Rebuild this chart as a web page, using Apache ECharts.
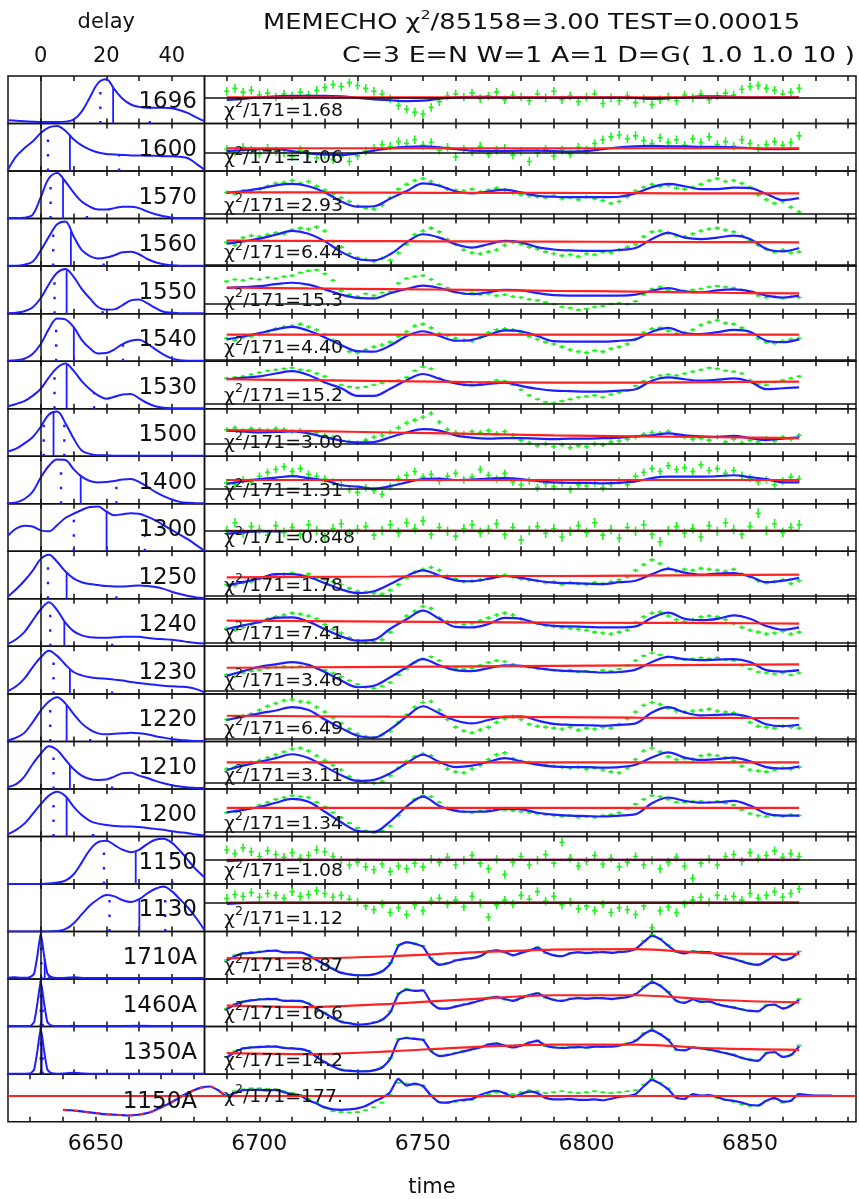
<!DOCTYPE html>
<html><head><meta charset="utf-8">
<script src="https://cdn.jsdelivr.net/npm/echarts@6/dist/echarts.min.js"></script>
<style>html,body{margin:0;padding:0;background:#fff;}#chart{width:859px;height:1199px;}</style>
</head><body><div id="chart"></div>
<script>
// ---------------- DATA ----------------
const lineNames = ['1696','1600','1570','1560','1550','1540','1530','1500','1400','1300','1250','1240','1230','1220','1210','1200','1150','1130','1710A','1460A','1350A','1150A'];
const chi2Values = ['1.68','1.06','2.93','6.44','15.3','4.40','15.2','3.00','1.31','0.848','1.78','7.41','3.46','6.49','3.11','1.34','1.08','1.12','8.87','16.6','14.2','177.'];
const zeroLevels = [55,38,10,3,20,4,11,27,31,43,7,7,7,5,12,9,51,61,null,null,null,null];
const errSizes = [9,9,4,4,3,4,3,5,8,10,4,4,3,4,4,3,9,9,2,2,2,2];
const markQ1  = [18.2,2.2,3.0,3.8,4.2,4.7,4.2,0.9,6.2,10.1,2.2,2.9,3.9,2.9,3.9,3.9,19.3,21.0,0.2,0.0,0.0];
const markMed = [22.1,8.9,6.8,9.2,7.9,10.1,7.9,3.9,12.2,20.1,7.9,7.2,8.9,7.9,8.9,7.9,29.0,30.1,1.2,0.3,0.3];
const markQ3  = [33.3,23.9,14.1,19.2,18.9,25.1,16.3,7.2,23.1,31.8,23.1,21.8,21.8,15.1,21.8,16.0,40.2,38.0,2.5,0.6,0.6];

const titleText1 = ['MEMECHO χ', '2', '/85158=3.00 TEST=0.00015'];
const titleText2 = 'C=3 E=N W=1 A=1 D=G( 1.0 1.0 10 )';
const delayLabels = [0,20,40];
const timeLabels = [6650,6700,6750,6800,6850];

const delayGrid = [-10,-7.5,-5,-2.5,0,2.5,5,7.5,10,12.5,15,17.5,20,22.5,25,27.5,30,32.5,35,37.5,40,42.5,45,47.5,50];
const tModel = [6690,6695,6700,6705,6710,6715,6720,6725,6730,6735,6740,6745,6750,6755,6760,6765,6770,6775,6780,6785,6790,6795,6800,6805,6810,6815,6820,6825,6830,6835,6840,6845,6850,6855,6860,6865];
const tData = [6690,6692.5,6695,6697.5,6700,6702.5,6705,6707.5,6710,6712.5,6715,6717.5,6720,6722.5,6725,6727.5,6730,6732.5,6735,6737.5,6740,6742.5,6745,6747.5,6750,6752.5,6755,6757.5,6760,6762.5,6765,6767.5,6770,6772.5,6775,6777.5,6780,6782.5,6785,6787.5,6790,6792.5,6795,6797.5,6800,6802.5,6805,6807.5,6810,6812.5,6815,6817.5,6820,6822.5,6825,6827.5,6830,6832.5,6835,6837.5,6840,6842.5,6845,6847.5,6850,6852.5,6855,6857.5,6860,6862.5,6865];
const tRed = [6690,6715,6740,6765,6790,6815,6840,6865];
const t1150Ahead = [6640,6642.5,6645,6647.5,6650,6652.5,6655,6657.5,6660,6662.5,6665,6667.5,6670,6672.5,6675,6677.5,6680,6682.5,6685,6687.5];
const t1150Atail = [6867.5,6870,6872.5,6875];

// delay distributions (values on delayGrid)
const c1696 = [7,6,5,4,3,3,3,4,8,25,55,85,93,72,52,40,35,33,33,33,32,28,22,13,5];
const c1600 = [3,31,48,62,80,92,95,85,67,54,45,39,36,35,34,33,33,32,32,31,31,30,27,15,3];
const c1570 = [1,1,2,8,45,85,96,78,55,36,25,19,19,22,25,25,22,15,9,5,2,1,1,1,1];
const c1560 = [1,1,3,9,33,62,88,94,63,34,21,16,18,23,29,30,25,15,8,4,2,1,1,1,1];
const c1550 = [1,2,5,13,33,62,86,94,78,52,32,14,8,9,18,28,30,22,12,4,2,1,1,1,1];
const c1540 = [1,2,5,15,36,68,90,88,72,45,27,16,17,25,36,43,45,37,25,14,6,2,1,1,1];
const c1530 = [5,10,16,27,42,66,86,95,80,58,41,28,21,25,30,31,22,12,5,2,1,1,1,1,1];
const c1500 = [10,16,27,40,62,88,94,70,38,12,5,2,2,1,1,1,1,1,1,1,1,1,1,1,1];
const c1400 = [1,3,10,25,55,80,93,92,73,57,48,45,46,48,51,52,46,36,25,16,9,4,2,1,1];
const c1300 = [33,48,54,52,44,42,55,70,79,87,93,94,84,76,78,80,79,73,65,55,45,35,25,13,1];
const c1250 = [5,20,38,59,84,93,78,58,43,35,31,29,27,26,26,27,28,27,25,21,15,10,6,3,2];
const c1240 = [5,15,30,54,78,93,76,50,32,23,19,18,18,19,20,20,20,18,16,15,14,12,9,7,6];
const c1230 = [6,16,32,56,77,91,80,62,46,39,35,33,32,30,28,25,23,21,19,17,16,15,14,10,3];
const c1220 = [2,8,18,40,65,84,93,80,58,38,25,17,15,16,17,18,17,15,11,8,5,3,2,1,1];
const c1210 = [4,10,26,52,74,90,82,62,42,28,21,19,20,26,33,34,28,23,17,12,8,5,3,2,2];
const c1200 = [5,14,27,47,68,86,94,85,63,45,33,27,24,22,21,21,20,18,16,14,11,9,7,4,2];
const c1150 = [0,0,0,0,0,1,3,7,20,45,72,88,91,82,72,67,72,84,93,95,87,70,50,30,14];
const c1130 = [0,0,0,0,0,0,1,5,17,36,55,68,77,74,66,62,68,80,90,95,85,68,50,28,3];
// narrow continuum transfer functions: [delay, value]
const c1710A = [[-10,3],[-8,4],[-6,3],[-4,3],[-3,5],[-2,12],[-1,50],[0,97],[1,50],[2,12],[3,5],[4,3],[6,2],[8,3],[10,4],[12,3],[15,2],[20,2],[25,2],[30,2],[35,2],[40,2],[45,2],[50,2]];
const c1460A = [[-10,2],[-8,1],[-5,1],[-3,2],[-2,10],[-1,50],[0,97],[1,50],[2,10],[3,3],[5,1],[10,2],[15,1],[20,1],[30,2],[40,1],[50,1]];
const c1350A = [[-10,1],[-5,1],[-3,2],[-2,10],[-1,50],[0,97],[1,50],[2,10],[3,3],[5,1],[8,2],[10,3],[12,2],[15,1],[20,1],[30,1],[40,1],[50,1]];

// model light curves on tModel
const m1696 = [49.5,52,55,57,58,58,58,57,54,51,49,47,48,52,55,56,56,55,55,55,55,55,55,55,55,54,52,53,55,57,57,56,55,55,55,55];
const m1600 = [42,44,46,46,42,37,35,34,37,43,48,51,52,50,46,43,42,42,43,43,42,41,42,46,50,52,53,52,52,51,51,50,48,46,46,47];
const m1570 = [54,58,63,70,73,68,55,36,25,26,42,58,74,69,57,53,57,61,55,48,46,45,45,45,46,53,66,73,68,62,62,65,64,52,39,43];
const m1560 = [47,52,58,66,74,68,52,30,15,12,25,50,67,60,46,39,46,53,50,40,35,33,32,32,34,38,57,70,60,57,60,64,57,36,31,38];
const m1550 = [54,56,58,62,65,61,51,40,33,32,43,52,59,54,45,41,45,50,49,43,39,38,38,38,38,40,48,54,47,45,49,51,47,38,34,38];
const m1540 = [46,52,59,67,72,64,50,34,21,20,33,53,63,53,43,45,55,65,63,53,42,41,41,41,43,46,62,70,59,57,61,66,62,43,40,46];
const m1530 = [62,65,68,74,79,71,55,43,27,27,42,60,73,63,53,49,52,55,48,42,38,37,36,36,38,41,59,66,62,59,61,64,57,41,43,45];
const m1500 = [54,52,50,51,52,48,40,33,29,30,40,50,57,54,44,39,37,38,38,37,36,37,37,38,39,42,44,48,44,42,41,43,38,34,37,40];
const m1400 = [42,47,52,55,58,54,49,39,36,32,37,45,52,53,50,51,53,54,52,48,45,44,44,43,44,47,54,57,57,57,58,60,56,52,45,45];
const m1300 = [37,40,42,42,43,43,43,43,43,43,43,43,43,43,43,43,43,43,43,43,43,43,43,43,43,43,43,43,43,43,43,43,43,43,43,43];
const m1250 = [28,35,43,52,52,46,33,20,12,16,31,48,60,49,39,37,42,48,44,38,34,33,32,31,35,38,52,63,55,51,53,54,47,35,38,44];
const m1240 = [36,44,51,60,61,52,36,21,12,14,37,57,75,58,41,40,47,60,58,48,43,42,41,40,40,42,60,71,58,55,58,65,58,43,35,40];
const m1230 = [38,48,57,62,67,61,46,28,14,17,35,56,73,60,50,48,54,60,59,54,50,48,47,45,46,51,67,78,73,71,72,73,67,50,47,50];
const m1220 = [45,52,59,65,72,66,46,28,12,8,26,52,74,59,44,38,45,52,53,44,37,35,34,33,35,38,61,72,61,55,56,57,51,36,32,35];
const m1210 = [40,49,57,65,73,65,47,29,17,19,33,54,72,57,46,49,57,65,58,51,47,46,46,45,46,51,66,77,66,61,63,66,58,46,43,47];
const m1200 = [51,56,62,71,79,73,52,30,12,10,32,63,84,64,54,52,53,58,57,50,46,44,43,42,44,47,70,82,75,71,72,75,65,48,44,44];
const m1150 = [48,50,51,51,51,51,51,51,51,51,51,51,51,51,51,51,51,51,51,51,51,51,51,51,51,51,51,51,51,51,51,51,51,51,51,51];
const m1130 = [58,60,61,61,61,61,61,61,61,61,61,61,61,61,61,61,61,61,61,61,61,61,61,61,61,61,61,61,61,61,61,61,61,61,61,61];
// continuum models on tData
const m1710A = [39,48,54,55,57,59,60,56,56,56,50,40,30,21,13,10,8,8,10,16,32,70,77,74,68,42,30,33,39,42,44,48,58,60,57,50,55,60,66,56,50,48,54,56,55,56,57,55,57,58,63,78,91,84,70,58,54,58,57,57,51,46,42,37,32,30,38,48,40,44,56];
const m1460A = [37,46,52,55,57,58,58,54,54,54,48,38,28,18,10,7,4,5,8,14,30,68,78,75,76,50,38,38,42,46,50,55,60,62,58,54,60,66,70,62,56,54,58,60,59,60,60,58,60,62,68,82,93,86,72,54,50,57,52,53,47,43,40,36,33,32,44,46,38,44,56];
const m1350A = [35,46,54,56,57,58,58,55,54,53,48,36,25,16,9,7,6,6,8,14,32,72,76,74,72,48,38,40,44,48,52,56,62,64,60,56,60,66,70,60,56,55,56,57,56,58,58,58,60,64,70,84,92,84,72,52,50,56,54,52,48,44,40,34,30,28,44,46,36,40,58];
// 1150A model on t1150Ahead + tData + t1150Atail
const m1150A = [25,24,22,20,18,16,15,14,13,14,17,22,30,38,48,58,66,72,74,66,54,
 60,66,67,67,66,67,62,58,55,45,38,30,26,25,26,28,33,42,50,62,90,76,80,75,55,41,40,44,46,48,
 56,62,65,60,52,58,63,60,50,47,47,48,46,46,47,45,48,52,54,58,74,88,80,68,50,48,58,55,56,52,
 46,44,40,35,34,44,50,42,44,58,56,55,55,55];

// measured fluxes on tData
const g1696 = [68,74,66,70,60,64,56,62,58,66,60,70,76,82,78,86,80,74,68,62,52,38,30,24,20,34,46,58,62,56,64,52,58,66,50,60,56,48,62,54,68,50,58,46,56,62,42,54,48,58,44,52,40,50,56,48,60,54,62,50,58,64,60,72,78,80,74,70,62,66,74];
const g1600 = [46,40,50,44,36,48,42,38,30,44,36,28,34,24,30,20,32,42,48,56,52,62,58,66,54,60,44,50,30,46,40,52,36,44,48,34,42,20,38,46,32,44,36,50,44,58,66,72,76,68,74,64,58,70,60,66,54,68,60,72,56,62,52,66,58,48,56,62,54,60,74];
const g1570 = [55,52,58,56,62,68,74,76,80,74,78,68,60,52,44,36,26,22,20,28,44,62,72,80,84,78,70,62,60,58,62,56,60,64,60,54,50,48,46,44,48,42,44,40,46,42,38,32,36,46,58,66,72,68,70,64,62,66,72,80,84,78,80,74,66,50,40,32,36,24,14];
const g1560 = [50,44,60,64,62,66,70,68,76,80,78,82,74,52,40,26,18,14,10,16,12,28,46,66,74,80,72,56,46,34,28,26,30,34,44,50,46,40,36,30,26,22,24,20,26,24,30,28,34,40,46,62,72,74,70,64,62,68,74,78,80,76,72,64,54,44,36,30,34,28,30];
const g1550 = [68,72,70,74,72,76,74,78,80,86,90,92,84,70,48,40,36,42,38,44,46,64,74,78,80,72,62,54,46,42,44,40,42,38,40,36,34,30,28,24,20,14,12,8,10,14,16,20,22,20,26,40,52,56,50,46,48,50,52,56,58,56,54,50,44,38,34,36,32,36,34];
const g1540 = [48,44,50,52,56,62,68,72,74,78,72,66,56,44,30,20,18,24,30,34,40,52,62,74,78,70,58,54,48,44,42,50,60,66,68,66,60,52,46,40,36,30,24,20,18,22,20,26,30,36,46,60,68,70,64,58,60,66,76,82,86,80,78,70,58,48,40,38,42,46,48];
const g1530 = [64,66,68,72,76,80,82,84,86,82,80,74,68,60,50,46,44,46,50,54,58,60,66,80,88,84,64,58,56,52,50,54,56,60,58,50,40,28,20,14,12,16,20,24,26,28,24,30,34,38,48,58,66,70,72,70,74,78,82,86,84,80,78,74,60,52,50,56,60,64,68];
const g1500 = [56,60,54,58,56,54,58,56,52,54,48,50,44,40,32,30,28,34,40,44,50,60,70,76,82,90,72,56,50,48,52,50,54,48,52,44,34,28,22,26,20,24,18,22,20,26,24,30,32,36,40,46,50,48,52,44,40,36,38,34,40,30,36,28,34,30,38,32,40,36,44];
const g1400 = [44,40,50,46,58,66,72,78,68,74,62,58,52,46,40,30,24,34,28,20,36,52,60,68,56,62,48,58,64,50,56,72,60,52,64,46,40,48,34,42,36,44,30,40,38,44,34,42,48,40,58,66,74,68,80,72,76,68,82,70,74,64,70,60,54,46,50,40,48,56,52];
const g1300 = [44,60,38,52,46,34,54,40,50,36,56,44,30,48,58,38,46,52,34,44,56,40,60,48,64,36,50,42,32,48,56,40,46,58,36,50,24,44,52,38,48,30,42,54,40,60,34,46,28,50,42,56,36,20,44,52,38,48,30,54,42,60,46,36,52,80,44,58,40,50,56];
const g1250 = [30,28,34,36,42,44,50,52,54,50,52,44,42,36,30,22,16,14,12,10,18,30,44,56,62,66,60,48,42,36,38,40,44,48,50,46,42,40,38,34,36,30,34,32,30,34,32,36,40,46,60,72,82,74,64,58,62,60,64,62,60,58,62,52,46,38,34,36,40,32,38];
const g1240 = [38,34,40,46,52,58,62,66,70,68,64,58,46,36,28,18,12,8,10,14,30,50,64,74,84,80,60,52,50,46,48,54,60,66,70,66,58,52,48,44,42,40,38,36,34,30,28,26,30,34,50,62,70,72,64,56,52,56,62,64,62,56,48,40,34,30,26,28,32,26,30];
const g1230 = [40,36,44,48,50,54,56,58,56,58,60,54,50,44,36,28,20,14,12,16,24,40,52,66,74,78,70,58,54,52,54,60,66,70,68,62,58,56,54,52,50,48,50,46,48,46,50,48,52,60,70,80,86,82,78,74,72,74,76,74,76,72,70,60,52,46,44,42,44,40,44];
const g1220 = [46,52,54,58,66,74,80,86,88,84,82,72,62,50,38,26,16,10,8,14,22,40,56,72,82,84,66,46,30,22,18,24,30,40,48,52,46,36,32,30,28,26,30,24,28,26,30,28,36,48,62,76,82,78,70,64,62,64,66,68,64,62,60,50,40,32,30,28,32,30,28];
const g1210 = [42,46,52,56,60,66,72,78,84,86,80,70,60,50,40,26,18,14,12,16,28,44,58,68,74,70,54,42,36,34,42,50,62,72,76,64,58,56,54,50,48,46,44,46,42,44,40,36,34,44,62,80,86,78,68,62,64,62,70,72,70,66,60,48,40,38,36,40,44,42,46];
const g1200 = [50,52,56,60,66,72,78,82,86,84,82,72,62,50,40,28,18,12,8,12,22,44,62,78,86,84,72,60,56,52,50,54,56,58,56,54,52,50,48,46,44,42,44,40,42,40,44,46,50,58,68,78,86,84,78,72,72,74,74,72,74,70,66,56,48,44,42,44,42,46,44];
const g1150 = [72,64,76,68,58,70,62,56,66,54,60,72,68,58,50,40,46,36,30,42,26,38,32,44,36,52,46,56,40,50,60,44,32,52,20,46,58,40,50,62,44,88,54,38,48,60,42,54,36,46,58,40,50,32,46,56,38,12,44,52,40,58,62,48,66,54,60,70,56,64,58];
const g1130 = [70,78,74,82,72,80,76,70,84,74,78,86,80,72,76,68,62,54,46,58,40,50,36,56,44,64,70,58,66,52,74,60,30,56,66,58,76,68,84,64,74,56,62,48,54,44,58,40,50,46,36,54,8,44,52,40,58,66,72,62,76,68,74,66,80,70,76,84,72,80,90];
const g1710A = [40,50,55,57,58,60,60,57,57,55,51,41,31,22,14,10,9,8,11,17,34,72,78,75,70,44,31,34,40,43,45,49,59,61,56,51,56,61,67,55,51,49,55,57,54,57,56,56,58,59,64,80,93,85,71,57,55,59,58,56,52,47,43,38,33,31,39,49,41,45,58];
const g1460A = [38,48,53,56,58,59,59,55,55,53,49,39,29,19,11,8,5,6,9,15,32,70,79,76,77,52,39,39,43,47,51,56,61,63,57,55,61,67,71,61,57,55,59,61,58,61,59,59,61,63,69,84,95,87,73,55,51,58,53,52,48,44,41,37,34,33,45,47,39,45,58];
const g1350A = [36,48,55,57,58,59,59,56,55,52,49,37,26,17,10,8,7,7,9,15,34,74,77,75,73,50,39,41,45,49,53,57,63,65,59,57,61,67,71,59,57,56,57,58,55,59,57,59,61,65,71,86,94,85,73,51,51,57,55,51,49,45,41,35,31,29,45,47,37,41,60];
const g1150A = [56,64,68,70,70,69,68,64,60,56,48,40,30,22,20,19,20,24,30,40,56,82,80,78,76,56,42,40,42,44,46,52,58,62,60,58,62,66,64,60,62,64,62,60,62,64,62,60,62,64,66,78,90,82,70,52,48,56,54,55,50,46,42,36,33,34,44,48,40,44,58];

// red (mean/background) lines on tRed
const r1696 = [55,55,55,55,55,55,55,55];
const r1600 = [48,48,48,48,48,48,48,48];
const r1570 = [55,55,54.5,54,54,53.5,53,53];
const r1560 = [53.5,53,52.5,52,51.5,51,50.5,50];
const r1550 = [55,53,51.5,50,48,46.5,44,42.5];
const r1540 = [56,56,56,56,56,56,56,56];
const r1530 = [62,60,58,56,55,55,56,57];
const r1500 = [55,53,50,47,44,42,40,38];
const r1400 = [50,50,50,50,50,50,50,50];
const r1300 = [43,43,43,43,43,43,43,43];
const r1250 = [45,46,47,48,48,49,50,51];
const r1240 = [54,53,52,51,50,49.5,49,48];
const r1230 = [55,56,57,58,59,60,61,62];
const r1220 = [54,53,52,51.5,51,50,49.5,49];
const r1210 = [56,56,56,56,56,56,56,56];
const r1200 = [60,60,60,60,60,60,60,60];
const r1150 = [51,51,51,51,51,51,51,51];
const r1130 = [61,61,61,61,61,61,61,61];
const r1710A = [44,44,48,56,62,63,54,53];
const r1460A = [44,41,48,58,66,66,56,51];
const r1350A = [44,42,48,57,62,62,54,51];
const red1150A = 55;

// ---------------- BUILD ----------------
const curves = [c1696,c1600,c1570,c1560,c1550,c1540,c1530,c1500,c1400,c1300,c1250,c1240,c1230,c1220,c1210,c1200,c1150,c1130,c1710A,c1460A,c1350A];
const models = [m1696,m1600,m1570,m1560,m1550,m1540,m1530,m1500,m1400,m1300,m1250,m1240,m1230,m1220,m1210,m1200,m1150,m1130,m1710A,m1460A,m1350A];
const greens = [g1696,g1600,g1570,g1560,g1550,g1540,g1530,g1500,g1400,g1300,g1250,g1240,g1230,g1220,g1210,g1200,g1150,g1130,g1710A,g1460A,g1350A];
const reds = [r1696,r1600,r1570,r1560,r1550,r1540,r1530,r1500,r1400,r1300,r1250,r1240,r1230,r1220,r1210,r1200,r1150,r1130,r1710A,r1460A,r1350A];

const FAM = '"DejaVu Sans"';
const FONT = FAM + ', sans-serif';
const BLUE = '#1e1eff', GREEN = '#1ff01f', RED = '#ff2222', INK = '#111';
const TOP = 76, RH = 47.53;
const XL = 8, XD = 204.5, XR = 856;
const T0 = 6633.2;               // time of zero delay
const TMIN = T0 - 10, TMAX = 6882.4;

const grids = [], xAxes = [], yAxes = [], series = [], graphics = [];

const mctx = document.createElement('canvas').getContext('2d');
function tw(text, size) { mctx.font = size + 'px ' + FAM; return mctx.measureText(text).width; }

function toPairs(c) {
  if (Array.isArray(c[0])) return c;
  return delayGrid.map((d, k) => [d, c[k]]);
}
function curveAt(pairs, d) {
  for (let k = 0; k < pairs.length - 1; k++) {
    const a = pairs[k], b = pairs[k + 1];
    if (d >= a[0] && d <= b[0]) return a[1] + (b[1] - a[1]) * (d - a[0]) / (b[0] - a[0]);
  }
  return 0;
}
function rangeTicks(a, b, s) { const r = []; for (let v = a; v <= b + 1e-9; v += s) r.push(v); return r; }

function addPanel(left, width, top, min, max, ticks, topOpts, botOpts) {
  grids.push({left, top, width, height: RH, show: true, borderColor: INK, borderWidth: 1.5, backgroundColor: 'transparent'});
  const g = grids.length - 1;
  const base = {gridIndex: g, type: 'value', min, max, axisLine: {show: false}, splitLine: {show: false},
    axisTick: {show: true, inside: true, length: 5, lineStyle: {color: INK, width: 1.5}, customValues: ticks},
    axisLabel: {show: false}};
  const xb = xAxes.length;
  xAxes.push(Object.assign({}, base, {position: 'bottom'}, botOpts || {}));
  xAxes.push(Object.assign({}, base, {position: 'top'}, topOpts || {}));
  yAxes.push({gridIndex: g, type: 'value', min: 0, max: 100, show: false});
  return {g, xb, y: g};
}

function errItem(params, api) {
  const t = api.value(0), v = api.value(1), e = api.value(2);
  const a = api.coord([t, v + e]), b = api.coord([t, v - e]), p = api.coord([t, v]);
  return {type: 'group', children: [
    {type: 'line', shape: {x1: a[0], y1: a[1], x2: b[0], y2: b[1]}, style: {stroke: GREEN, lineWidth: 1.6}},
    {type: 'line', shape: {x1: p[0] - 2.6, y1: p[1], x2: p[0] + 2.6, y2: p[1]}, style: {stroke: GREEN, lineWidth: 1.6}}
  ]};
}

const rightTicks = rangeTicks(6690, 6880, 10);
const leftTicks = [0, 10, 20, 30, 40];

for (let i = 0; i < 21; i++) {
  const top = TOP + i * RH;
  const lt = i === 0 ? {axisLabel: {show: true, customValues: delayLabels, fontSize: 21, fontFamily: FONT, color: INK, margin: 9},
      name: 'delay', nameLocation: 'middle', nameGap: 43, nameTextStyle: {fontSize: 21, fontFamily: FONT, color: INK}} : null;
  const L = addPanel(XL, XD - XL, top, -10, 50, leftTicks, lt, null);
  const pairs = toPairs(curves[i]);
  series.push({type: 'line', xAxisIndex: L.xb, yAxisIndex: L.y, data: pairs, smooth: i >= 18 ? 0.15 : 0.35,
    symbol: 'none', lineStyle: {color: BLUE, width: 2}, z: 3, clip: true,
    markLine: {silent: true, symbol: 'none', label: {show: false}, lineStyle: {color: INK, width: 1.5, type: 'solid'}, data: [{xAxis: 0}]}});
  [[markQ1[i], 'dot'], [markMed[i], 'solid'], [markQ3[i], 'dot']].forEach(([d, kind]) => {
    const h = curveAt(pairs, d);
    series.push({type: 'line', xAxisIndex: L.xb, yAxisIndex: L.y, data: [[d, 0], [d, h]], symbol: 'none',
      lineStyle: {color: BLUE, width: kind === 'dot' ? 2.4 : 1.8, type: kind === 'dot' ? [2.5, 12] : 'solid', cap: 'butt'}, z: 3});
  });
  const R = addPanel(XD, XR - XD, top, T0 + 50, TMAX, rightTicks, null, null);
  const gser = {type: 'custom', xAxisIndex: R.xb, yAxisIndex: R.y, renderItem: errItem, clip: true,
    encode: {x: 0, y: 1}, data: tData.map((t, k) => [t, greens[i][k], errSizes[i]]), z: 2};
  if (zeroLevels[i] != null) gser.markLine = {silent: true, symbol: 'none', label: {show: false},
    lineStyle: {color: INK, width: 1.5, type: 'solid'}, data: [{yAxis: zeroLevels[i]}]};
  series.push(gser);
  const mt = models[i].length === tModel.length ? tModel : tData;
  series.push({type: 'line', xAxisIndex: R.xb, yAxisIndex: R.y, data: mt.map((t, k) => [t, models[i][k]]),
    smooth: mt === tModel ? 0.35 : 0.2, symbol: 'none', lineStyle: {color: BLUE, width: 2.2}, z: 3});
  series.push({type: 'line', xAxisIndex: R.xb, yAxisIndex: R.y, data: tRed.map((t, k) => [t, reds[i][k]]),
    smooth: 0.3, symbol: 'none', lineStyle: {color: RED, width: 2.2}, z: 4});
}

{
  const top = TOP + 21 * RH;
  const B = addPanel(XL, XR - XL, top, TMIN, TMAX, rangeTicks(6630, 6880, 10), null,
    {axisLabel: {show: true, customValues: timeLabels, formatter: v => String(v), fontSize: 22, fontFamily: FONT, color: INK, margin: 12},
     name: 'time', nameLocation: 'middle', nameGap: 55, nameTextStyle: {fontSize: 21, fontFamily: FONT, color: INK}});
  const tAll = t1150Ahead.concat(tData, t1150Atail);
  series.push({type: 'custom', xAxisIndex: B.xb, yAxisIndex: B.y, renderItem: errItem, clip: true,
    encode: {x: 0, y: 1}, data: tData.map((t, k) => [t, g1150A[k], errSizes[21]]), z: 2});
  series.push({type: 'line', xAxisIndex: B.xb, yAxisIndex: B.y, data: tAll.map((t, k) => [t, m1150A[k]]),
    smooth: 0.2, symbol: 'none', lineStyle: {color: BLUE, width: 2.2}, z: 3});
  const nHead = t1150Ahead.length + 1;
  series.push({type: 'line', xAxisIndex: B.xb, yAxisIndex: B.y,
    data: tAll.slice(0, nHead).map((t, k) => [t, m1150A[k]]), smooth: 0.2, symbol: 'none',
    lineStyle: {color: RED, width: 2, type: [4, 7]}, z: 4,
    markLine: {silent: true, symbol: 'none', label: {show: false}, lineStyle: {color: RED, width: 2.2, type: 'solid'}, data: [{yAxis: red1150A}]}});
}

// ----- texts (Hershey-like wide lettering: stretched horizontally)
const rich = (sz, supSz) => ({a: {fontSize: sz, fontFamily: FONT, fill: INK, lineHeight: sz + 4, verticalAlign: 'bottom'},
  s: {fontSize: supSz, fontFamily: FONT, fill: INK, lineHeight: supSz, verticalAlign: 'top'}});
const chiRef = tw('χ', 18) + tw('2', 12) + tw('/171=1.68', 18);
const chiScale = 119 / chiRef;
for (let i = 0; i < 22; i++) {
  const top = TOP + i * RH;
  graphics.push({type: 'text', z: 100, x: 197, y: top + (i === 21 ? 28 : 26.5),
    style: {text: lineNames[i], font: '23px ' + FONT, fill: INK, align: 'right', verticalAlign: 'middle'}});
  graphics.push({type: 'text', z: 100, x: 224, y: top + (i === 21 ? 21 : 33), scaleX: chiScale,
    style: {text: '{a|χ}{s|2}{a|/171=' + chi2Values[i] + '}', rich: rich(18, 12), align: 'left', verticalAlign: 'middle'}});
}
const w1 = tw(titleText1[0], 21) + tw(titleText1[1], 13) + tw(titleText1[2], 21);
graphics.push({type: 'text', z: 100, x: 263, y: 22, scaleX: (800 - 263) / w1,
  style: {text: '{a|' + titleText1[0] + '}{s|' + titleText1[1] + '}{a|' + titleText1[2] + '}', rich: rich(21, 13), align: 'left', verticalAlign: 'middle'}});
const w2 = tw(titleText2, 21);
graphics.push({type: 'text', z: 100, x: 342, y: 57, scaleX: (855 - 342) / w2,
  style: {text: titleText2, font: '21px ' + FONT, fill: INK, align: 'left', verticalAlign: 'middle'}});

const chart = echarts.init(document.getElementById('chart'), null, {renderer: 'canvas'});
chart.setOption({animation: false, backgroundColor: '#fff', grid: grids, xAxis: xAxes, yAxis: yAxes, series, graphic: graphics});
</script></body></html>
